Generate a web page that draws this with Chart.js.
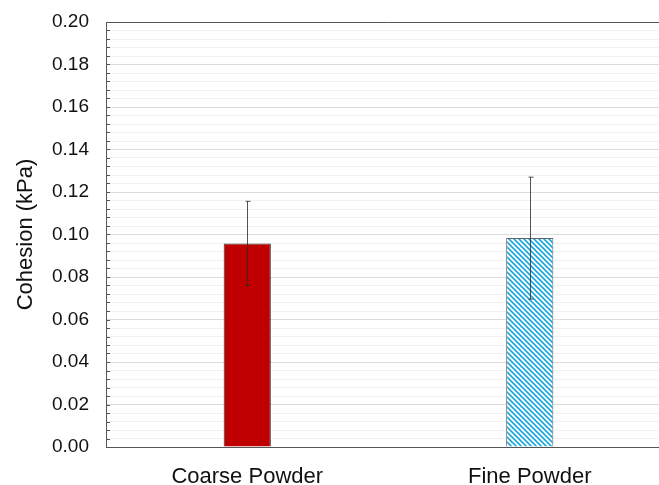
<!DOCTYPE html>
<html>
<head>
<meta charset="utf-8">
<script src="https://cdn.jsdelivr.net/npm/chart.js@4/dist/chart.umd.min.js"></script>
<style>
  html, body { margin: 0; padding: 0; background: #fff; overflow: hidden; }
  #wrap { width: 671px; height: 485px; }
</style>
</head>
<body>
<div id="wrap"><canvas id="myChart"></canvas></div>
<script>
const powders = ['Coarse Powder', 'Fine Powder'];
const cohesion = [0.0958, 0.0983];
const cohesionErr = [0.0198, 0.0287];
const yMin = 0;
const yMax = 0.2;
const yStep = 0.004;

const fontFam = 'Arial, "Liberation Sans", sans-serif';

// diagonal hatch for the fine powder bar
function hatch() {
  const c = document.createElement('canvas');
  c.width = 5; c.height = 5;
  const g = c.getContext('2d');
  g.fillStyle = '#ffffff';
  g.fillRect(0, 0, 5, 5);
  g.strokeStyle = '#1aa7e0';
  g.lineWidth = 1.6;
  g.beginPath();
  g.moveTo(-1, -1); g.lineTo(6, 6);
  g.moveTo(-1, 4); g.lineTo(1, 6);
  g.moveTo(4, -1); g.lineTo(6, 1);
  g.stroke();
  return g.createPattern(c, 'repeat');
}

const extras = {
  id: 'extras',
  afterDatasetsDraw(chart) {
    const ctx = chart.ctx;
    const area = chart.chartArea;
    const x = chart.scales.x, y = chart.scales.y;
    ctx.save();
    // error bars
    ctx.strokeStyle = 'rgba(40,40,40,0.8)';
    ctx.lineWidth = 1;
    cohesion.forEach(function(v, i) {
      const px = Math.round(x.getPixelForValue(i)) + 0.5;
      const top = y.getPixelForValue(v + cohesionErr[i]);
      const bot = y.getPixelForValue(v - cohesionErr[i]);
      ctx.beginPath();
      ctx.moveTo(px, top); ctx.lineTo(px, bot);
      ctx.moveTo(px - 2, top); ctx.lineTo(px + 3, top);
      ctx.moveTo(px - 2, bot); ctx.lineTo(px + 3, bot);
      ctx.stroke();
    });
    // inner tick marks on the value axis
    ctx.strokeStyle = '#555';
    ctx.beginPath();
    for (let v = yMin; v <= yMax + 1e-9; v += yStep) {
      const py = Math.round(y.getPixelForValue(v)) + 0.5;
      ctx.moveTo(area.left, py); ctx.lineTo(area.left + 4, py);
    }
    ctx.stroke();
    // top frame line
    ctx.strokeStyle = '#555';
    ctx.beginPath();
    ctx.moveTo(area.left, Math.round(area.top) + 0.5);
    ctx.lineTo(area.right, Math.round(area.top) + 0.5);
    ctx.stroke();
    ctx.restore();
  }
};

new Chart('myChart', {
  type: 'bar',
  data: {
    labels: powders,
    datasets: [{
      data: cohesion,
      backgroundColor: ['#c00000', hatch()],
      borderColor: ['#333333', '#666666'],
      borderWidth: 1,
      categoryPercentage: 1,
      barPercentage: 0.167
    }]
  },
  options: {
    responsive: true,
    maintainAspectRatio: false,
    animation: false,
    devicePixelRatio: 1,
    layout: { padding: { top: 22, right: 0, left: 0, bottom: 0 } },
    plugins: { legend: { display: false }, tooltip: { enabled: false } },
    scales: {
      x: {
        grid: { display: false },
        border: { color: '#555', width: 1 },
        ticks: { color: '#111', font: { family: fontFam, size: 22 }, padding: 9 },
        afterFit: function(s) { s.height = 38; }
      },
      y: {
        min: yMin,
        max: yMax,
        border: { color: '#555', width: 1 },
        grid: {
          drawTicks: true,
          tickLength: 14,
          tickColor: 'rgba(0,0,0,0)',
          color: function(c) {
            return (c.index % 5 === 0) ? '#dcdcdc' : '#f1f1f1';
          }
        },
        ticks: {
          stepSize: yStep,
          autoSkip: false,
          padding: 3,
          color: '#111',
          font: { family: fontFam, size: 19 },
          callback: function(v, i) { return i % 5 === 0 ? v.toFixed(2) : ''; }
        },
        title: {
          display: true,
          text: 'Cohesion (kPa)',
          color: '#111',
          font: { family: fontFam, size: 22 },
          padding: { top: 13, bottom: 0 }
        },
        afterFit: function(s) { s.width = 106; }
      }
    }
  },
  plugins: [extras]
});
</script>
</body>
</html>
